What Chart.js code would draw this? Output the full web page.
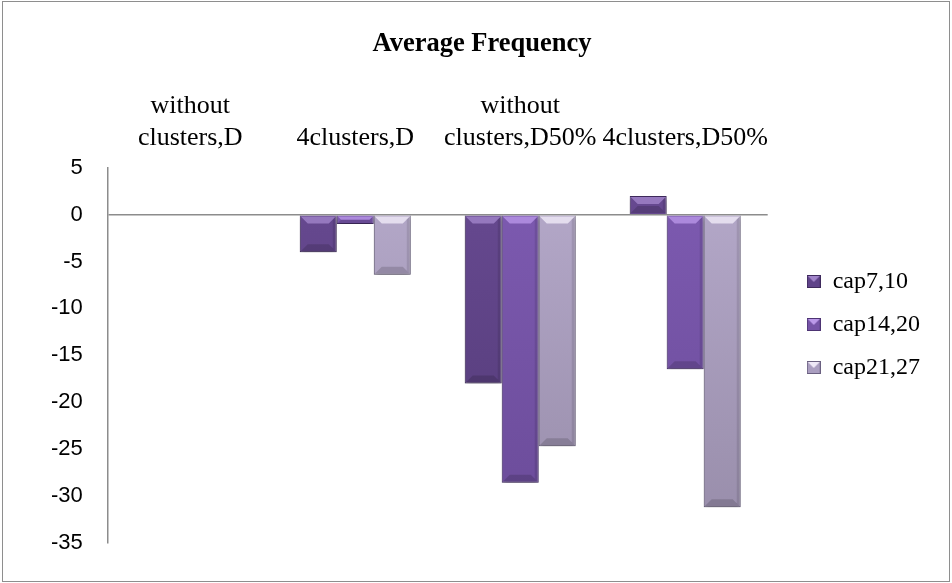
<!DOCTYPE html>
<html>
<head>
<meta charset="utf-8">
<script src="https://cdn.jsdelivr.net/npm/chart.js@4"></script>
<style>
  body { margin: 0; background: #fff; }
  #box { position: absolute; left: 2px; top: 1px; width: 946px; height: 579px; border: 1px solid #8e8e8e; }
</style>
</head>
<body>
<div id="box"><canvas id="myChart"></canvas></div>
<script>
const categories = [["without", "clusters,D"], "4clusters,D", ["without", "clusters,D50%"], "4clusters,D50%"]
const cap7_10 = [0, -4.0, -18.0, 2.0]
const cap14_20 = [0, -1.0, -28.6, -16.5]
const cap21_27 = [0, -6.4, -24.7, -31.2]
const yTicks = [5, 0, -5, -10, -15, -20, -25, -30, -35]

const serif = '"Liberation Serif", "Times New Roman", serif'

// vertical shading down the plot, like the excel fill
const shade = (light, dark) => c => {
  const area = c.chart.chartArea
  if (!area) return light
  const g = c.chart.ctx.createLinearGradient(0, area.top, 0, area.bottom)
  g.addColorStop(0, light)
  g.addColorStop(1, dark)
  return g
}

// little beveled squares for the legend
const swatch = (fill, edge, light) => {
  const c = document.createElement('canvas')
  c.width = 14; c.height = 13
  const x = c.getContext('2d')
  x.fillStyle = fill; x.fillRect(0, 0, 14, 13)
  x.fillStyle = light
  x.beginPath(); x.moveTo(1, 1); x.lineTo(13, 1); x.lineTo(7, 7); x.closePath(); x.fill()
  x.strokeStyle = edge; x.lineWidth = 1; x.strokeRect(0.5, 0.5, 13, 12)
  return c
}
const swatches = [
  swatch('#5f4389', '#3e2a5c', 'rgba(190,160,230,0.7)'),
  swatch('#7654a7', '#4d3473', 'rgba(205,170,250,0.8)'),
  swatch('#aa9ec0', '#6a6080', 'rgba(250,245,255,0.85)')
]

// fake bevel on each bar, drawn over the bars chart.js placed
const bevel = {
  id: 'bevel',
  beforeDatasetsDraw(chart) {
    const ctx = chart.ctx
    ctx.save()
    ctx.shadowColor = 'rgba(0,0,0,0.35)'
    ctx.shadowBlur = 5
    ctx.shadowOffsetY = 3
  },
  afterDatasetsDraw(chart) {
    const ctx = chart.ctx
    ctx.restore()
    chart.data.datasets.forEach((ds, i) => {
      chart.getDatasetMeta(i).data.forEach(bar => {
        const h = Math.abs(bar.base - bar.y)
        if (h < 0.5) return
        const left = bar.x - bar.width / 2, right = bar.x + bar.width / 2
        const top = Math.min(bar.y, bar.base), bottom = Math.max(bar.y, bar.base)
        const b = Math.min(8, h / 2)
        ctx.save()
        ctx.fillStyle = ds.bevelLight
        ctx.beginPath()
        ctx.moveTo(left + 1, top + 1); ctx.lineTo(right - 1, top + 1)
        ctx.lineTo(right - b, top + b); ctx.lineTo(left + b, top + b)
        ctx.closePath(); ctx.fill()
        ctx.fillStyle = 'rgba(0,0,0,0.10)'
        ctx.beginPath()
        ctx.moveTo(right - 1, top + 1); ctx.lineTo(right - 1, bottom - 1)
        ctx.lineTo(right - 4, bottom - 4); ctx.lineTo(right - 4, top + 4)
        ctx.closePath(); ctx.fill()
        ctx.fillStyle = 'rgba(0,0,0,0.15)'
        ctx.beginPath()
        ctx.moveTo(left + 1, bottom - 1); ctx.lineTo(right - 1, bottom - 1)
        ctx.lineTo(right - b, bottom - b); ctx.lineTo(left + b, bottom - b)
        ctx.closePath(); ctx.fill()
        ctx.restore()
      })
    })
  }
}

// nudge legend and title to where excel had them
const nudge = {
  id: 'nudge',
  afterLayout(chart) {
    const l = chart.legend
    l.left += 20; l.right += 20
    l.top += 32; l.bottom += 32
    const t = chart.titleBlock
    t.left += 14; t.right += 14
  }
}

var ctx = document.getElementById('myChart').getContext('2d');
var myChart = new Chart(ctx, {
  type: 'bar',
  data: {
    labels: categories,
    datasets: [{
        label: "cap7,10",
        data: cap7_10,
        backgroundColor: shade("#684a92", "#523a76"),
        borderColor: "#3e2a5c",
        bevelLight: "rgba(190,160,230,0.55)",
        borderWidth: 1
      }, {
        label: "cap14,20",
        data: cap14_20,
        backgroundColor: shade("#7e5bb2", "#6a4b98"),
        borderColor: "#4d3473",
        bevelLight: "rgba(205,170,250,0.6)",
        borderWidth: 1
      }, {
        label: "cap21,27",
        data: cap21_27,
        backgroundColor: shade("#b6aacb", "#978ca9"),
        borderColor: "#6a6080",
        bevelLight: "rgba(250,245,255,0.7)",
        borderWidth: 1
      }
    ]
  },
  options: {
    responsive: true,
    maintainAspectRatio: false,
    animation: false,
    layout: { padding: { top: 26, left: 23, right: 39, bottom: 24 } },
    datasets: { bar: { barPercentage: 1, categoryPercentage: 0.673 } },
    scales: {
      x: {
        position: 'top',
        grid: { display: false, drawTicks: false },
        border: { display: false },
        ticks: {
          color: '#000',
          padding: 14,
          maxRotation: 0,
          autoSkip: false,
          font: { family: serif, size: 26, lineHeight: 1.23 }
        }
      },
      y: {
        min: -35,
        max: 5,
        afterBuildTicks: axis => { axis.ticks = yTicks.map(v => ({ value: v })) },
        grid: {
          drawTicks: false,
          color: c => c.tick && c.tick.value === 0 ? '#8c8c8c' : 'rgba(0,0,0,0)',
          lineWidth: 1.5
        },
        border: { display: true, color: '#8c8c8c', width: 1.5 },
        ticks: {
          color: '#000',
          padding: 25,
          font: { family: '"Liberation Sans", Arial, sans-serif', size: 22 }
        }
      }
    },
    plugins: {
      title: {
        display: true,
        text: 'Average Frequency',
        color: '#000',
        padding: { top: 0, bottom: 16 },
        font: { family: serif, size: 26.5, weight: 'bold', lineHeight: 1.2 }
      },
      legend: {
        position: 'right',
        display: true,
        labels: {
          color: '#000',
          boxWidth: 14,
          boxHeight: 13,
          padding: 19,
          usePointStyle: true,
          pointStyleWidth: 14,
          generateLabels: chart => Chart.defaults.plugins.legend.labels.generateLabels(chart)
            .map((item, i) => ({ ...item, pointStyle: swatches[i] })),
          font: { family: serif, size: 24 }
        }
      },
      tooltip: { enabled: false }
    }
  },
  plugins: [bevel, nudge]
});
</script>
</body>
</html>
